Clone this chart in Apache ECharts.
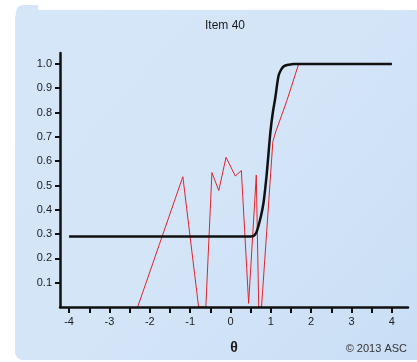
<!DOCTYPE html>
<html>
<head>
<meta charset="utf-8">
<script src="https://cdn.jsdelivr.net/npm/echarts@6/dist/echarts.min.js"></script>
<style>
  html, body { margin: 0; padding: 0; background: #ffffff; }
  #chart { width: 417px; height: 362px; }
</style>
</head>
<body>
<div id="chart"></div>
<script>
// Item characteristic curve for Item 40: model curve and empirical proportions
var chartTitle = 'Item 40';
var xTickValues = [-4, -3.5, -3, -2.5, -2, -1.5, -1, -0.5, 0, 0.5, 1, 1.5, 2, 2.5, 3, 3.5, 4];
var xLabelValues = [-4, -3, -2, -1, 0, 1, 2, 3, 4];
var yLabelValues = [0.1, 0.2, 0.3, 0.4, 0.5, 0.6, 0.7, 0.8, 0.9, 1.0];

// model curve (theta, probability)
var modelTheta = [-4, 0.5, 0.58, 0.65, 0.75, 0.82, 0.9, 0.99, 1.05, 1.11, 1.19, 1.25, 1.32, 1.45, 1.57, 4];
var modelProb  = [0.29, 0.29, 0.293, 0.31, 0.37, 0.43, 0.55, 0.72, 0.8, 0.86, 0.95, 0.975, 0.99, 0.997, 1.0, 1.0];

// empirical proportions (theta, proportion)
var obsTheta = [-2.3, -1.18, -0.79, -0.61, -0.46, -0.29, -0.11, 0.12, 0.27, 0.45, 0.64, 0.70, 0.77, 1.05, 1.12, 1.40, 1.69, 4];
var obsProb  = [0, 0.536, 0, 0, 0.553, 0.479, 0.616, 0.539, 0.561, 0.015, 0.543, 0, 0, 0.68, 0.72, 0.85, 1.0, 1.0];

function pairs(xs, ys) {
  return xs.map(function (x, i) { return [x, ys[i]]; });
}

var fontFam = '"Liberation Sans Narrow", "Liberation Sans", Arial, sans-serif';
var chart = echarts.init(document.getElementById('chart'), null, { renderer: 'canvas' });

chart.setOption({
  backgroundColor: '#ffffff',
  animation: false,
  graphic: [
    {
      type: 'rect', z: -10, silent: true,
      shape: { x: 16, y: 5, width: 22, height: 30, r: [7, 0, 0, 0] },
      style: { fill: '#d6e6f9' }
    },
    {
      type: 'rect', z: -10, silent: true,
      shape: { x: 15, y: 10, width: 402, height: 350, r: [8, 0, 0, 8] },
      style: {
        fill: new echarts.graphic.LinearGradient(0, 0, 1, 1, [
          { offset: 0, color: '#d6e6f9' },
          { offset: 0.5, color: '#d4e5f8' },
          { offset: 1, color: '#c9def5' }
        ])
      }
    },
    {
      type: 'text', z: 10,
      style: {
        x: 225, y: 26, text: chartTitle, align: 'center', verticalAlign: 'middle',
        font: '12px ' + fontFam, fill: '#1a1a1a'
      }
    },
    {
      type: 'text', z: 10,
      style: {
        x: 407, y: 349, text: '\u00a9 2013 ASC', align: 'right', verticalAlign: 'middle',
        font: '11px ' + fontFam, fill: '#333333'
      }
    }
  ],
  grid: { left: 60, right: 9, top: 53, bottom: 55, containLabel: false },
  xAxis: {
    type: 'value',
    min: -4.225, max: 4.4,
    z: 5,
    name: '\u03b8',
    nameLocation: 'middle',
    nameGap: 34,
    nameTextStyle: { fontFamily: fontFam, fontSize: 14, fontWeight: 'bold', color: '#1a1a1a' },
    splitLine: { show: false },
    axisLine: { show: true, onZero: false, lineStyle: { color: '#111111', width: 2.5 } },
    axisTick: { show: true, customValues: xTickValues, length: 6, lineStyle: { color: '#111111', width: 2 } },
    axisLabel: {
      customValues: xLabelValues, margin: 9,
      fontFamily: fontFam, fontSize: 11, color: '#222222',
      formatter: function (v) { return String(v); }
    }
  },
  yAxis: {
    type: 'value',
    min: 0, max: 1.045,
    z: 5,
    splitLine: { show: false },
    axisLine: { show: true, onZero: false, lineStyle: { color: '#111111', width: 2.5 } },
    axisTick: { show: true, customValues: yLabelValues, length: 5, lineStyle: { color: '#111111', width: 2 } },
    axisLabel: {
      customValues: yLabelValues, margin: 8,
      fontFamily: fontFam, fontSize: 11, color: '#222222',
      formatter: function (v) { return v.toFixed(1); }
    }
  },
  series: [
    {
      type: 'line',
      data: pairs(obsTheta, obsProb),
      showSymbol: false,
      clip: true,
      z: 2,
      lineStyle: { color: '#e3232c', width: 1 }
    },
    {
      type: 'line',
      data: pairs(modelTheta, modelProb),
      showSymbol: false,
      smooth: 0.3,
      z: 3,
      lineStyle: { color: '#111111', width: 2.5 }
    }
  ]
});
</script>
</body>
</html>
